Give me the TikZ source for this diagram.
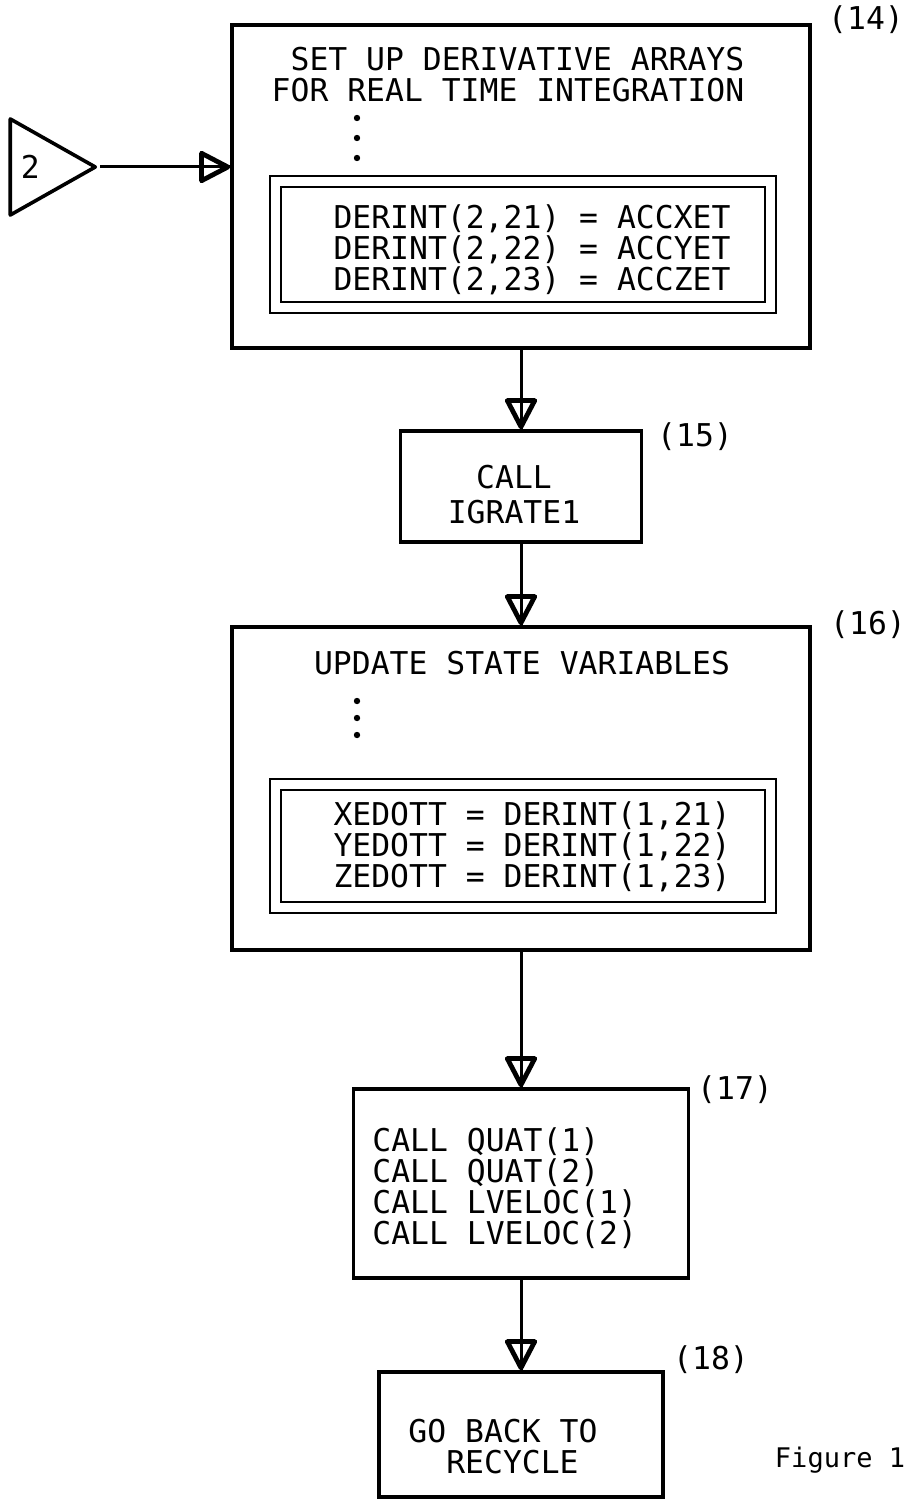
\documentclass[tikz,border=0pt]{standalone}
\usepackage{fontspec}
\setmonofont{DejaVu Sans Mono}
\usetikzlibrary{positioning, arrows.meta, shapes.geometric}

\begin{document}
\begin{tikzpicture}[x=0.5pt, y=-0.5pt,
    caja/.style={draw, line width=1.8pt, inner sep=0pt},
    cajadoble/.style={draw, line width=1pt, double, double distance=4.5pt, inner sep=0pt},
    texto/.style={font=\ttfamily\fontsize{15.7}{15.5}\selectfont, inner sep=0pt},
    flecha/.style={line width=1.5pt, -{Triangle[open, round, length=17pt, width=17pt, line width=2.4pt]}, postaction={draw, -}}]
    \useasboundingbox (0,0) rectangle (906,1503);

    % Cajas
    \node[caja, minimum width=289pt, minimum height=161.5pt] (b14) at (521,186.5) {};
    \node[caja, minimum width=120.5pt, minimum height=55.5pt] (b15) at (521,486.5) {};
    \node[caja, minimum width=289pt, minimum height=161.5pt] (b16) at (521,788.5) {};
    \node[caja, minimum width=167.5pt, minimum height=94.5pt] (b17) at (521,1183.5) {};
    \node[caja, minimum width=142pt, minimum height=62.5pt] (b18) at (521,1434.5) {};

    % Cajas dobles
    \node[cajadoble, minimum width=247.75pt, minimum height=62.75pt] (d14) at (523,244.75) {};
    \node[cajadoble, minimum width=247.75pt, minimum height=61.75pt] (d16) at (523,845.75) {};

    % Conector de entrada
    \node[draw, line width=1.8pt, line join=round, isosceles triangle, isosceles triangle stretches,
          minimum width=48pt, minimum height=42.5pt, inner sep=0pt, anchor=apex] (c2) at (100,167) {};
    \node[texto, right=6pt of c2.west] (n2) {2};

    % Textos
    \node[texto, align=right] (t14) at (508,75) {SET UP DERIVATIVE ARRAYS\\FOR REAL TIME INTEGRATION};
    \node[texto, align=left] (t14d) at (532,250) {DERINT(2,21) = ACCXET\\DERINT(2,22) = ACCYET\\DERINT(2,23) = ACCZET};
    \node[texto, align=center] (t15) at (514,495) {CALL\\[2pt]IGRATE1};
    \node[texto] (t16) at (522,663) {UPDATE STATE VARIABLES};
    \node[texto, align=left] (t16d) at (532,847) {XEDOTT = DERINT(1,21)\\YEDOTT = DERINT(1,22)\\ZEDOTT = DERINT(1,23)};
    \node[texto, align=left, anchor=west] (t17) at (372,1188) {CALL QUAT(1)\\CALL QUAT(2)\\CALL LVELOC(1)\\CALL LVELOC(2)};
    \node[texto, align=left] (t18) at (503,1447) {GO BACK TO\\\phantom{GO}RECYCLE};

    % Puntos suspensivos
    \foreach \y in {118,138,158} \fill (357,\y) circle (1.6pt);
    \foreach \y in {701,718,735} \fill (357,\y) circle (1.6pt);

    % Flechas
    \draw[flecha] (c2.apex) -- (c2.apex -| b14.west);
    \draw[flecha] (b14) -- (b15);
    \draw[flecha] (b15) -- (b16);
    \draw[flecha] (b16) -- (b17);
    \draw[flecha] (b17) -- (b18);

    % Numeros de bloque
    \node[texto] (n14) at (866,20) {(14)};
    \node[texto] (n15) at (695,437) {(15)};
    \node[texto] (n16) at (868,625) {(16)};
    \node[texto] (n17) at (735,1090) {(17)};
    \node[texto] (n18) at (711,1360) {(18)};
    \node[font=\ttfamily\fontsize{13.5}{14}\selectfont, inner sep=0pt] (fig) at (840,1460) {Figure 1};
\end{tikzpicture}
\end{document}
